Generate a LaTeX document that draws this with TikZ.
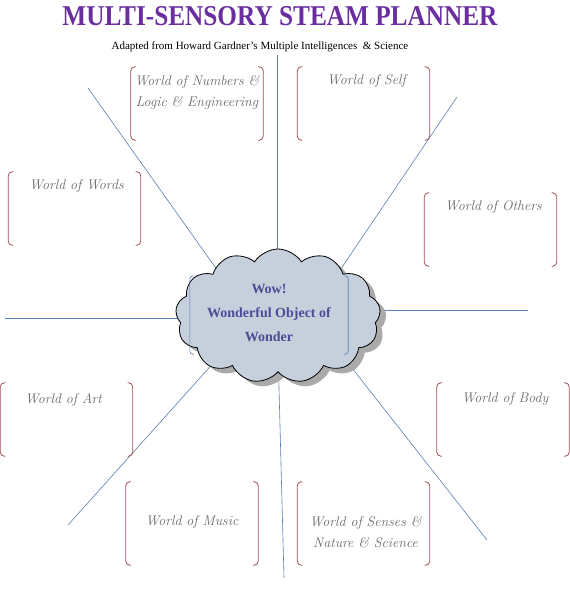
\documentclass[tikz,border=0pt]{standalone}
\usepackage{fontspec}
\setmainfont{Liberation Serif}
\newfontfamily\scriptish{Latin Modern Roman}
\usetikzlibrary{shapes.symbols}
\definecolor{linecol}{HTML}{5B7FB5}
\definecolor{brcol}{HTML}{A05058}
\definecolor{txtgray}{HTML}{6A6A6A}
\definecolor{titlecol}{HTML}{6A2EA0}
\definecolor{cloudfill}{HTML}{C6D0DC}
\definecolor{cloudshadow}{HTML}{AAAAAA}
\definecolor{wowcol}{HTML}{4B4B96}
\tikzset{
  spoke/.style={draw=linecol, line width=0.6pt},
  boxnode/.style={inner sep=0pt, minimum width=132pt, minimum height=73pt},
  bracketline/.style={draw=brcol, line width=0.8pt, rounded corners=4pt},
  innerbracket/.style={draw=linecol, line width=0.6pt, rounded corners=3pt},
  wtext/.style={text=txtgray, font=\scriptish\fontsize{14}{21}\selectfont\itshape, align=center, inner sep=0pt},
  cloudshape/.style={cloud, cloud puffs=13, cloud puff arc=115, aspect=1.5, minimum width=205pt, minimum height=134pt, inner sep=0pt},
  wowtext/.style={font=\fontsize{14}{24}\selectfont\bfseries, align=center, inner sep=0pt}
}
\newcommand{\brackets}[1]{%
  \draw[bracketline] ([xshift=5pt]#1.north west) -| (#1.south west) -- ([xshift=5pt]#1.south west);
  \draw[bracketline] ([xshift=-5pt]#1.north east) -| (#1.south east) -- ([xshift=-5pt]#1.south east);}
\begin{document}
\begin{tikzpicture}[x=1pt,y=-1pt]
\useasboundingbox[fill=white] (0,0) rectangle (570,600);
% title
\node[inner sep=0pt, text=titlecol] (title) at (280,16) {\resizebox{435pt}{19pt}{\bfseries MULTI-SENSORY STEAM PLANNER}};
\node[inner sep=0pt, font=\fontsize{11}{13}\selectfont] (subtitle) at (260,47) {Adapted from Howard Gardner's Multiple Intelligences \ \& Science};
% spokes
\coordinate (e1) at (277,55);   \coordinate (i1) at (277,295);
\coordinate (e2) at (88,88);    \coordinate (i2) at (225,281);
\coordinate (e3) at (457,97);   \coordinate (i3) at (330,285);
\coordinate (e4) at (5,318);    \coordinate (i4) at (210,318);
\coordinate (e5) at (528,310);  \coordinate (i5) at (340,310);
\coordinate (e6) at (68,525);   \coordinate (i6) at (225,350);
\coordinate (e7) at (284,578);  \coordinate (i7) at (278,350);
\coordinate (e8) at (487,540);  \coordinate (i8) at (330,340);
\foreach \k in {1,...,8} {\draw[spoke] (e\k) -- (i\k);}
% cloud
\node[cloudshape, fill=cloudshadow] (cloudsh) at (284,321) {};
\node[cloudshape, fill=cloudfill, draw=black, line width=0.8pt] (cloudmain) at (278,316) {};
\node[inner sep=0pt, minimum width=158pt, minimum height=78pt] (inner) at (269,315) {};
\draw[innerbracket] ([xshift=4pt]inner.north west) -| (inner.south west) -- ([xshift=4pt]inner.south west);
\draw[innerbracket] ([xshift=-4pt]inner.north east) -| (inner.south east) -- ([xshift=-4pt]inner.south east);
\node[wowtext, text=wowcol] (wow) at (269,313.5) {Wow!\\Wonderful Object of\\Wonder};
% boxes
\node[boxnode] (bnum) at (197,103.5) {};
\node[boxnode] (bself) at (363.5,103.5) {};
\node[boxnode] (bwords) at (74.5,208.5) {};
\node[boxnode] (bothers) at (490.5,229.5) {};
\node[boxnode] (bart) at (66.5,419.5) {};
\node[boxnode] (bbody) at (503,419.5) {};
\node[boxnode, minimum height=83pt] (bmusic) at (192,523.5) {};
\node[boxnode, minimum height=83pt] (bsenses) at (363.5,523.5) {};
\foreach \b in {bnum,bself,bwords,bothers,bart,bbody,bmusic,bsenses} {\brackets{\b}}
% texts
\node[wtext, anchor=north] (tnum) at ([yshift=-8pt]bnum.north) {World of Numbers \&\\Logic \& Engineering};
\node[wtext, anchor=north] (tself) at ([xshift=3pt,yshift=-8pt]bself.north) {World of Self};
\node[wtext, anchor=north] (twords) at ([xshift=2pt,yshift=-8pt]bwords.north) {World of Words};
\node[wtext, anchor=north] (tothers) at ([xshift=3pt,yshift=-8pt]bothers.north) {World of Others};
\node[wtext, anchor=north] (tart) at ([xshift=-3pt,yshift=-10pt]bart.north) {World of Art};
\node[wtext, anchor=north] (tbody) at ([xshift=2pt,yshift=-10pt]bbody.north) {World of Body};
\node[wtext] (tmusic) at ([yshift=2pt]bmusic.center) {World of Music};
\node[wtext] (tsenses) at ([xshift=2pt,yshift=-9pt]bsenses.center) {World of Senses \&\\Nature \& Science};
\end{tikzpicture}
\end{document}
